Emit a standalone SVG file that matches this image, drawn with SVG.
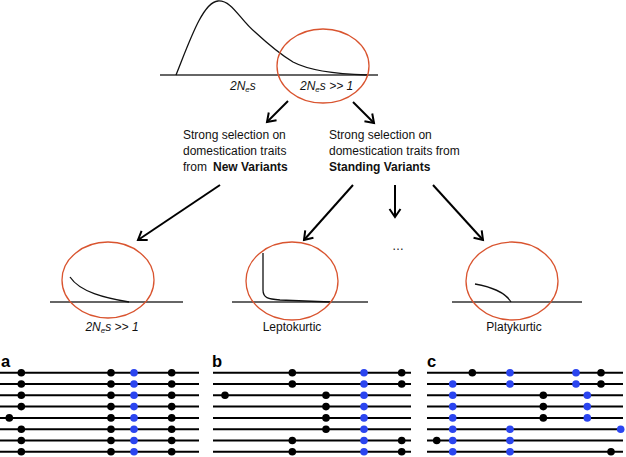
<svg xmlns="http://www.w3.org/2000/svg" width="626" height="457" viewBox="0 0 626 457">
<defs>
<marker id="ah" markerUnits="userSpaceOnUse" markerWidth="14" markerHeight="14" viewBox="-10 -7 12 14" refX="0" refY="0" orient="auto">
<path d="M-8,-5.5 L0,0 L-8,5.5" fill="none" stroke="#000" stroke-width="2"/>
</marker>
</defs>
<style>
.t{font-family:"Liberation Sans",Arial,sans-serif;font-size:12px;fill:#111}
.i{font-style:italic}
.b{font-weight:bold}
.ell{fill:none;stroke:#d9542f;stroke-width:1.3}
.base{stroke:#333;stroke-width:1.3}
.cur{fill:none;stroke:#111;stroke-width:1.3}
.arr{stroke:#000;stroke-width:2;marker-end:url(#ah)}
.hl{stroke:#000;stroke-width:2}
.k{fill:#000}
.u{fill:#2b45f0}
.lab{font-family:"Liberation Sans",Arial,sans-serif;font-size:16.5px;font-weight:bold;fill:#000}
</style>
<g id="top-distribution">
<line class="base" x1="160" y1="75" x2="378" y2="75"/>
<path class="cur" d="M176,75 C190,40 203,2 218,1 C232,0 240,20 255,32 C268,44 278,53 293,62 C310,71 335,74 367,75"/>
<ellipse class="ell" cx="323" cy="66" rx="46" ry="37"/>
<text class="t i" x="230" y="90">2N<tspan font-size="8" dy="2">e</tspan><tspan dy="-2">s</tspan></text>
<text class="t i" x="300" y="90">2N<tspan font-size="8" dy="2">e</tspan><tspan dy="-2">s &gt;&gt; 1</tspan></text>
</g>
<g id="new-variants">
<text class="t" x="183" y="139">Strong selection on</text>
<text class="t" x="183" y="155">domestication traits</text>
<text class="t" x="183" y="171">from <tspan class="b" x="213">New Variants</tspan></text>
</g>
<g id="standing-variants">
<text class="t" x="329" y="139">Strong selection on</text>
<text class="t" x="329" y="155">domestication traits from</text>
<text class="t b" x="329" y="171">Standing Variants</text>
</g>
<g id="connectors">
<line class="arr" x1="288" y1="101" x2="267" y2="122"/>
<line class="arr" x1="353" y1="102" x2="374" y2="123"/>
<line class="arr" x1="220" y1="185" x2="138" y2="240"/>
<line class="arr" x1="353" y1="185" x2="304" y2="240"/>
<line class="arr" x1="395" y1="185" x2="395" y2="217"/>
<line class="arr" x1="433" y1="185" x2="483" y2="240"/>
</g>
<g id="ellipsis">
<text class="t" x="398" y="250" text-anchor="middle">…</text>
</g>
<g id="new-variants-dist">
<line class="base" x1="50" y1="302" x2="183" y2="302"/>
<path class="cur" d="M70,277 C80,292 105,298 129,302"/>
<ellipse class="ell" cx="108" cy="280" rx="46" ry="38"/>
<text class="t i" x="112" y="331" text-anchor="middle">2N<tspan font-size="8" dy="2">e</tspan><tspan dy="-2">s &gt;&gt; 1</tspan></text>
</g>
<g id="leptokurtic">
<line class="base" x1="232" y1="302" x2="368" y2="302"/>
<path class="cur" d="M263,253 L263,290 C263,298 268,299 280,300 L330,302"/>
<ellipse class="ell" cx="292" cy="281" rx="46" ry="39"/>
<text class="t" x="292" y="331" text-anchor="middle">Leptokurtic</text>
</g>
<g id="platykurtic">
<line class="base" x1="452" y1="302" x2="582" y2="302"/>
<path class="cur" d="M475,284 C492,287 505,292 511,302"/>
<ellipse class="ell" cx="512" cy="281" rx="46" ry="39"/>
<text class="t" x="514" y="331" text-anchor="middle">Platykurtic</text>
</g>
<g id="panel-a">
<text class="lab" x="1" y="367">a</text>
<g class="hl">
<line x1="0" y1="372.7" x2="199" y2="372.7"/><line x1="0" y1="384" x2="199" y2="384"/><line x1="0" y1="395.3" x2="199" y2="395.3"/><line x1="0" y1="406.6" x2="199" y2="406.6"/><line x1="0" y1="417.9" x2="199" y2="417.9"/><line x1="0" y1="429.2" x2="199" y2="429.2"/><line x1="0" y1="440.5" x2="199" y2="440.5"/><line x1="0" y1="451.8" x2="199" y2="451.8"/>
</g>
<g class="k">
<circle cx="21.3" cy="372.7" r="3.8"/><circle cx="21.3" cy="384" r="3.8"/><circle cx="21.3" cy="395.3" r="3.8"/><circle cx="21.3" cy="406.6" r="3.8"/><circle cx="9.3" cy="417.9" r="3.8"/><circle cx="21.3" cy="429.2" r="3.8"/><circle cx="21.3" cy="440.5" r="3.8"/><circle cx="21.3" cy="451.8" r="3.8"/>
<circle cx="111" cy="372.7" r="3.8"/><circle cx="111" cy="384" r="3.8"/><circle cx="111" cy="395.3" r="3.8"/><circle cx="111" cy="406.6" r="3.8"/><circle cx="111" cy="417.9" r="3.8"/><circle cx="111" cy="429.2" r="3.8"/><circle cx="111" cy="440.5" r="3.8"/><circle cx="111" cy="451.8" r="3.8"/>
<circle cx="171.7" cy="372.7" r="3.8"/><circle cx="171.7" cy="384" r="3.8"/><circle cx="171.7" cy="395.3" r="3.8"/><circle cx="171.7" cy="406.6" r="3.8"/><circle cx="171.7" cy="417.9" r="3.8"/><circle cx="171.7" cy="429.2" r="3.8"/><circle cx="171.7" cy="440.5" r="3.8"/><circle cx="171.7" cy="451.8" r="3.8"/>
</g>
<g class="u">
<circle cx="134" cy="372.7" r="3.8"/><circle cx="134" cy="384" r="3.8"/><circle cx="134" cy="395.3" r="3.8"/><circle cx="134" cy="406.6" r="3.8"/><circle cx="134" cy="417.9" r="3.8"/><circle cx="134" cy="429.2" r="3.8"/><circle cx="134" cy="440.5" r="3.8"/><circle cx="134" cy="451.8" r="3.8"/>
</g>
</g>
<g id="panel-b">
<text class="lab" x="212" y="367">b</text>
<g class="hl">
<line x1="213" y1="372.7" x2="411" y2="372.7"/><line x1="213" y1="384" x2="411" y2="384"/><line x1="213" y1="395.3" x2="411" y2="395.3"/><line x1="213" y1="406.6" x2="411" y2="406.6"/><line x1="213" y1="417.9" x2="411" y2="417.9"/><line x1="213" y1="429.2" x2="411" y2="429.2"/><line x1="213" y1="440.5" x2="411" y2="440.5"/><line x1="213" y1="451.8" x2="411" y2="451.8"/>
</g>
<g class="k">
<circle cx="292.3" cy="372.7" r="3.8"/><circle cx="401.7" cy="372.7" r="3.8"/>
<circle cx="292.3" cy="384" r="3.8"/><circle cx="401.7" cy="384" r="3.8"/>
<circle cx="225" cy="395.3" r="3.8"/><circle cx="326" cy="395.3" r="3.8"/>
<circle cx="326" cy="406.6" r="3.8"/><circle cx="326" cy="417.9" r="3.8"/><circle cx="326" cy="429.2" r="3.8"/>
<circle cx="292.3" cy="440.5" r="3.8"/><circle cx="401.7" cy="440.5" r="3.8"/>
<circle cx="292.3" cy="451.8" r="3.8"/><circle cx="401.7" cy="451.8" r="3.8"/>
</g>
<g class="u">
<circle cx="364" cy="372.7" r="3.8"/><circle cx="364" cy="384" r="3.8"/><circle cx="364" cy="395.3" r="3.8"/><circle cx="364" cy="406.6" r="3.8"/><circle cx="364" cy="417.9" r="3.8"/><circle cx="364" cy="429.2" r="3.8"/><circle cx="364" cy="440.5" r="3.8"/><circle cx="364" cy="451.8" r="3.8"/>
</g>
</g>
<g id="panel-c">
<text class="lab" x="427" y="367">c</text>
<g class="hl">
<line x1="427" y1="372.7" x2="623" y2="372.7"/><line x1="427" y1="384" x2="623" y2="384"/><line x1="427" y1="395.3" x2="623" y2="395.3"/><line x1="427" y1="406.6" x2="623" y2="406.6"/><line x1="427" y1="417.9" x2="623" y2="417.9"/><line x1="427" y1="429.2" x2="623" y2="429.2"/><line x1="427" y1="440.5" x2="623" y2="440.5"/><line x1="427" y1="451.8" x2="623" y2="451.8"/>
</g>
<g class="k">
<circle cx="472.3" cy="372.7" r="3.8"/><circle cx="601" cy="372.7" r="3.8"/>
<circle cx="601" cy="384" r="3.8"/>
<circle cx="543.3" cy="395.3" r="3.8"/><circle cx="543.3" cy="406.6" r="3.8"/><circle cx="543.3" cy="417.9" r="3.8"/>
<circle cx="436.7" cy="440.5" r="3.8"/>
<circle cx="611" cy="451.8" r="3.8"/>
</g>
<g class="u">
<circle cx="510" cy="372.7" r="3.8"/><circle cx="576" cy="372.7" r="3.8"/>
<circle cx="452.7" cy="384" r="3.8"/><circle cx="510" cy="384" r="3.8"/><circle cx="576" cy="384" r="3.8"/>
<circle cx="452.7" cy="395.3" r="3.8"/><circle cx="587.3" cy="395.3" r="3.8"/>
<circle cx="452.7" cy="406.6" r="3.8"/><circle cx="587.3" cy="406.6" r="3.8"/>
<circle cx="452.7" cy="417.9" r="3.8"/><circle cx="587.3" cy="417.9" r="3.8"/>
<circle cx="452.7" cy="429.2" r="3.8"/><circle cx="510" cy="429.2" r="3.8"/><circle cx="620.7" cy="429.2" r="3.8"/>
<circle cx="452.7" cy="440.5" r="3.8"/><circle cx="510" cy="440.5" r="3.8"/>
<circle cx="452.7" cy="451.8" r="3.8"/><circle cx="510" cy="451.8" r="3.8"/>
</g>
</g>
</svg>
